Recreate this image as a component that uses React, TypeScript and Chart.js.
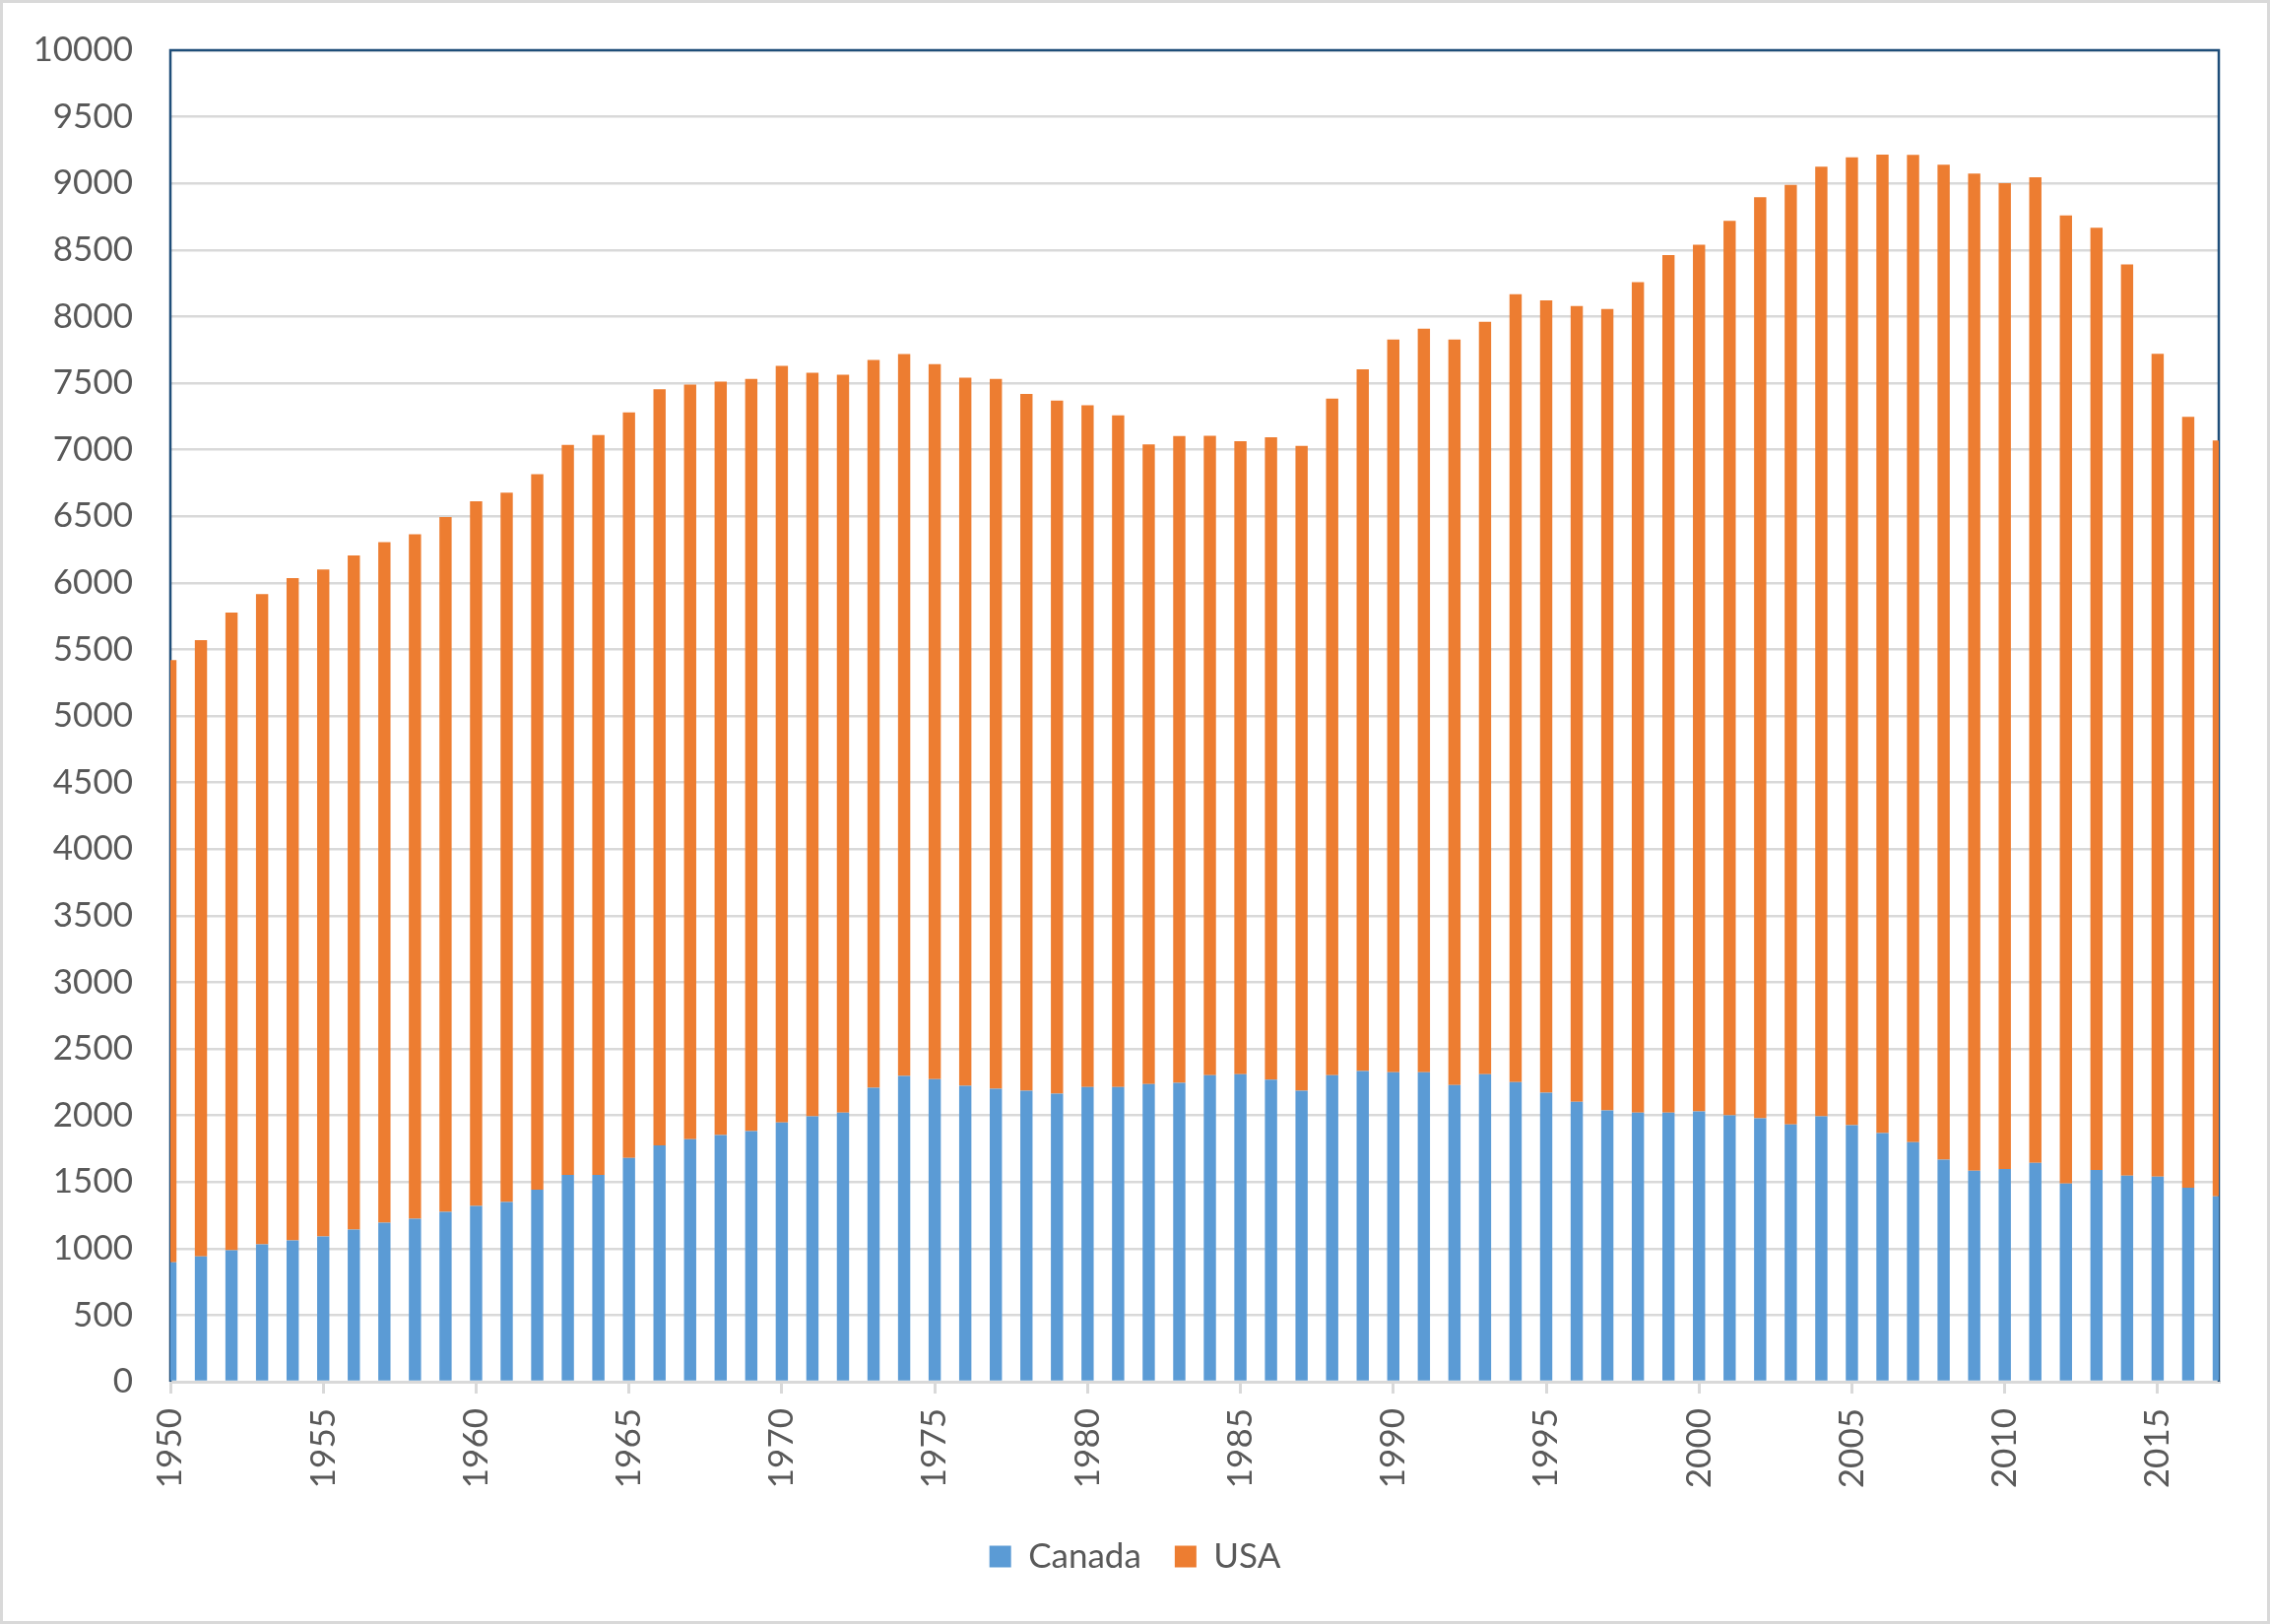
import React, { useEffect, useRef } from "react";
import { Chart, registerables } from "chart.js";

Chart.register(...registerables);

const years = [
  1950, 1951, 1952, 1953, 1954, 1955, 1956, 1957, 1958, 1959,
  1960, 1961, 1962, 1963, 1964, 1965, 1966, 1967, 1968, 1969,
  1970, 1971, 1972, 1973, 1974, 1975, 1976, 1977, 1978, 1979,
  1980, 1981, 1982, 1983, 1984, 1985, 1986, 1987, 1988, 1989,
  1990, 1991, 1992, 1993, 1994, 1995, 1996, 1997, 1998, 1999,
  2000, 2001, 2002, 2003, 2004, 2005, 2006, 2007, 2008, 2009,
  2010, 2011, 2012, 2013, 2014, 2015, 2016, 2017,
];

const canada = [
  897, 941, 988, 1032, 1062, 1091, 1143, 1195, 1224, 1276,
  1320, 1350, 1443, 1554, 1554, 1680, 1776, 1822, 1852, 1882,
  1948, 1993, 2022, 2207, 2296, 2273, 2222, 2200, 2185, 2163,
  2214, 2214, 2236, 2244, 2303, 2310, 2268, 2185, 2303, 2333,
  2325, 2325, 2229, 2310, 2251, 2170, 2103, 2037, 2022, 2022,
  2030, 2000, 1978, 1933, 1993, 1926, 1867, 1800, 1667, 1584,
  1598, 1643, 1488, 1591, 1547, 1540, 1458, 1392,
];

const usa = [
  4523, 4629, 4788, 4883, 4973, 5009, 5062, 5110, 5141, 5219,
  5292, 5328, 5372, 5481, 5556, 5600, 5677, 5666, 5660, 5650,
  5681, 5585, 5540, 5466, 5422, 5369, 5318, 5332, 5233, 5205,
  5120, 5044, 4804, 4858, 4802, 4754, 4825, 4843, 5080, 5271,
  5502, 5583, 5598, 5650, 5917, 5952, 5975, 6019, 6236, 6440,
  6510, 6718, 6919, 7055, 7133, 7269, 7349, 7415, 7473, 7490,
  7404, 7403, 7272, 7075, 6845, 6180, 5789, 5678,
];

const xTickYears = [1950, 1955, 1960, 1965, 1970, 1975, 1980, 1985, 1990, 1995, 2000, 2005, 2010, 2015];
const yMin = 0;
const yMax = 10000;
const yStep = 500;

const W = 2305;
const H = 1649;
const FONT = "Lato";
const TEXT = "#595959";
const GRID = "#D9D9D9";

const framePlugin = {
  id: "frame",
  beforeDatasetsDraw(chart: any) {
    const { ctx, chartArea: a } = chart;
    ctx.save();
    ctx.strokeStyle = "#1F4E79";
    ctx.lineWidth = 2.5;
    ctx.beginPath();
    ctx.moveTo(a.left, a.bottom);
    ctx.lineTo(a.left, a.top);
    ctx.lineTo(a.right, a.top);
    ctx.lineTo(a.right, a.bottom);
    ctx.stroke();
    ctx.restore();
  },
  afterDraw(chart: any) {
    const { ctx, width, height } = chart;
    ctx.save();
    ctx.strokeStyle = GRID;
    ctx.lineWidth = 3;
    ctx.strokeRect(1.5, 1.5, width - 3, height - 3);
    ctx.restore();
  },
};

export default function App() {
  const ref = useRef<HTMLCanvasElement>(null);

  useEffect(() => {
    const canvas = ref.current;
    if (!canvas) return;
    Chart.defaults.font.family = FONT;
    const chart = new Chart(canvas, {
      type: "bar",
      data: {
        labels: years,
        datasets: [
          {
            label: "Canada",
            data: canada,
            backgroundColor: "#5B9BD5",
            borderWidth: 0,
            clip: 0,
          },
          {
            label: "USA",
            data: usa,
            backgroundColor: "#ED7D31",
            borderWidth: 0,
            clip: 0,
          },
        ],
      },
      options: {
        responsive: false,
        animation: false,
        devicePixelRatio: 1,
        layout: { padding: { top: 51, left: 0, right: 0, bottom: 41 } },
        datasets: {
          bar: { barPercentage: 1, categoryPercentage: 0.4 },
        },
        scales: {
          x: {
            type: "linear",
            min: 1950,
            max: 2017,
            stacked: true,
            offset: false,
            grid: {
              offset: false,
              drawOnChartArea: false,
              drawTicks: true,
              tickLength: 12,
              color: GRID,
              tickColor: GRID,
              lineWidth: 3,
            },
            border: { display: true, color: GRID, width: 3 },
            ticks: {
              autoSkip: false,
              minRotation: 90,
              maxRotation: 90,
              padding: 15,
              color: TEXT,
              font: { family: FONT, size: 35 },
              callback: (v: any) => String(v),
            },
            afterBuildTicks: (axis: any) => {
              axis.ticks = xTickYears.map((v) => ({ value: v }));
            },
            afterFit: (axis: any) => {
              axis.height = 126;
            },
          },
          y: {
            type: "linear",
            stacked: true,
            min: yMin,
            max: yMax,
            position: "left",
            grid: {
              color: GRID,
              lineWidth: 2.5,
              drawTicks: false,
            },
            border: { display: false },
            ticks: {
              stepSize: yStep,
              padding: 38,
              color: TEXT,
              font: { family: FONT, size: 35 },
              callback: (v: any) => String(v),
            },
            afterFit: (axis: any) => {
              axis.width = 173;
              axis.paddingTop = 21;
              axis.paddingBottom = 21;
            },
          },
          yRight: {
            type: "linear",
            position: "right",
            display: true,
            grid: { display: false, drawTicks: false },
            border: { display: false },
            ticks: { display: false },
            afterFit: (axis: any) => {
              axis.width = 52;
              axis.paddingTop = 0;
              axis.paddingBottom = 0;
            },
          },
        },
        plugins: {
          legend: {
            position: "bottom",
            labels: {
              boxWidth: 22,
              boxHeight: 22,
              padding: 34,
              color: TEXT,
              font: { family: FONT, size: 35 },
            },
          },
          tooltip: { enabled: false },
          title: { display: false },
        },
      },
      plugins: [framePlugin],
    } as any);
    return () => chart.destroy();
  }, []);

  return (
    <div
      style={{
        position: "absolute",
        left: 0,
        top: 0,
        width: W,
        height: H,
        background: "#ffffff",
      }}
    >
      <canvas ref={ref} width={W} height={H} style={{ display: "block", width: W, height: H }} />
    </div>
  );
}
